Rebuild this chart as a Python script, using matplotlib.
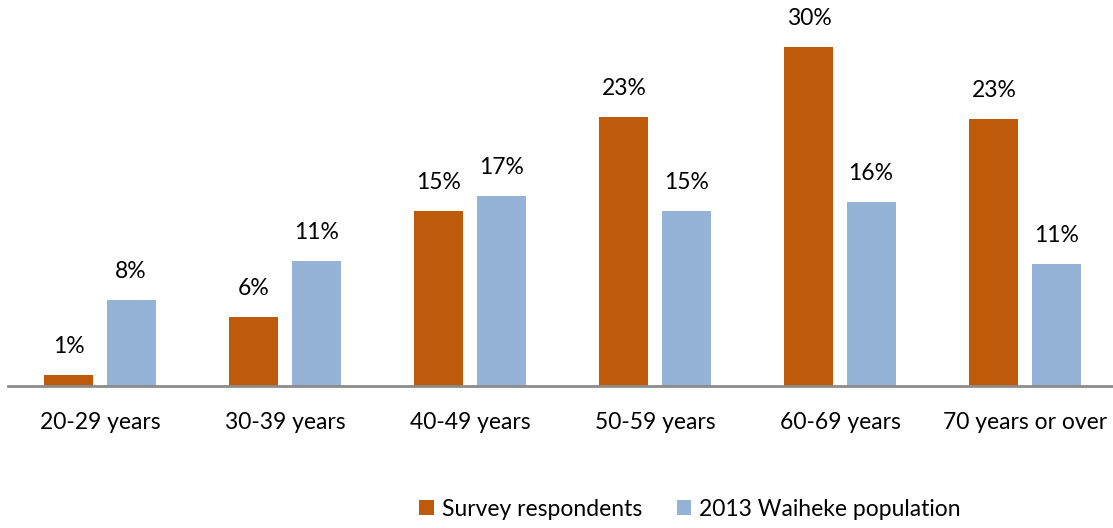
import matplotlib.pyplot as plt
import numpy as np

plt.rcParams['font.family'] = ['Lato', 'DejaVu Sans']

categories = ['20-29 years', '30-39 years', '40-49 years', '50-59 years', '60-69 years', '70 years or over']
survey = [1.0, 6.1, 15.5, 23.8, 30.0, 23.6]
population = [7.6, 11.1, 16.8, 15.5, 16.3, 10.8]
survey_labels = ['1%', '6%', '15%', '23%', '30%', '23%']
population_labels = ['8%', '11%', '17%', '15%', '16%', '11%']

orange = '#BE5A0A'
blue = '#95B3D7'

W, H = 1113, 528
fig = plt.figure(figsize=(W / 100, H / 100), dpi=100)
# axes placed in pixel terms: baseline at y=386, category width 185 px
ax = fig.add_axes([7.5 / W, (H - 386) / H, 1110 / W, 384 / H])

x = np.arange(len(categories))
bw = 0.265
off = 0.168
b1 = ax.bar(x - off, survey, bw, color=orange, label='Survey respondents')
b2 = ax.bar(x + off, population, bw, color=blue, label='2013 Waiheke population')

for bars, labels in ((b1, survey_labels), (b2, population_labels)):
    for bar, lab in zip(bars, labels):
        ax.annotate(lab, (bar.get_x() + bar.get_width() / 2, bar.get_height()),
                    xytext=(0, 13), textcoords='offset points',
                    ha='center', va='bottom', fontsize=16.5, color='#000000')

ax.set_xlim(-0.5, len(categories) - 0.5)
ax.set_ylim(0, 34)
ax.set_xticks(x)
ax.set_xticklabels(categories, fontsize=16.5)
ax.tick_params(axis='x', length=0, pad=19)
ax.set_yticks([])
for side in ('top', 'right', 'left'):
    ax.spines[side].set_visible(False)
ax.spines['bottom'].set_color('#8C8C8C')
ax.spines['bottom'].set_linewidth(2)

fig.legend(loc='center', bbox_to_anchor=(690 / W, 1 - 509 / H), ncol=2,
           frameon=False, fontsize=16.5, handlelength=0.65, handleheight=0.65,
           handletextpad=0.35, columnspacing=1.5)

fig.savefig('out.png', dpi=100)
